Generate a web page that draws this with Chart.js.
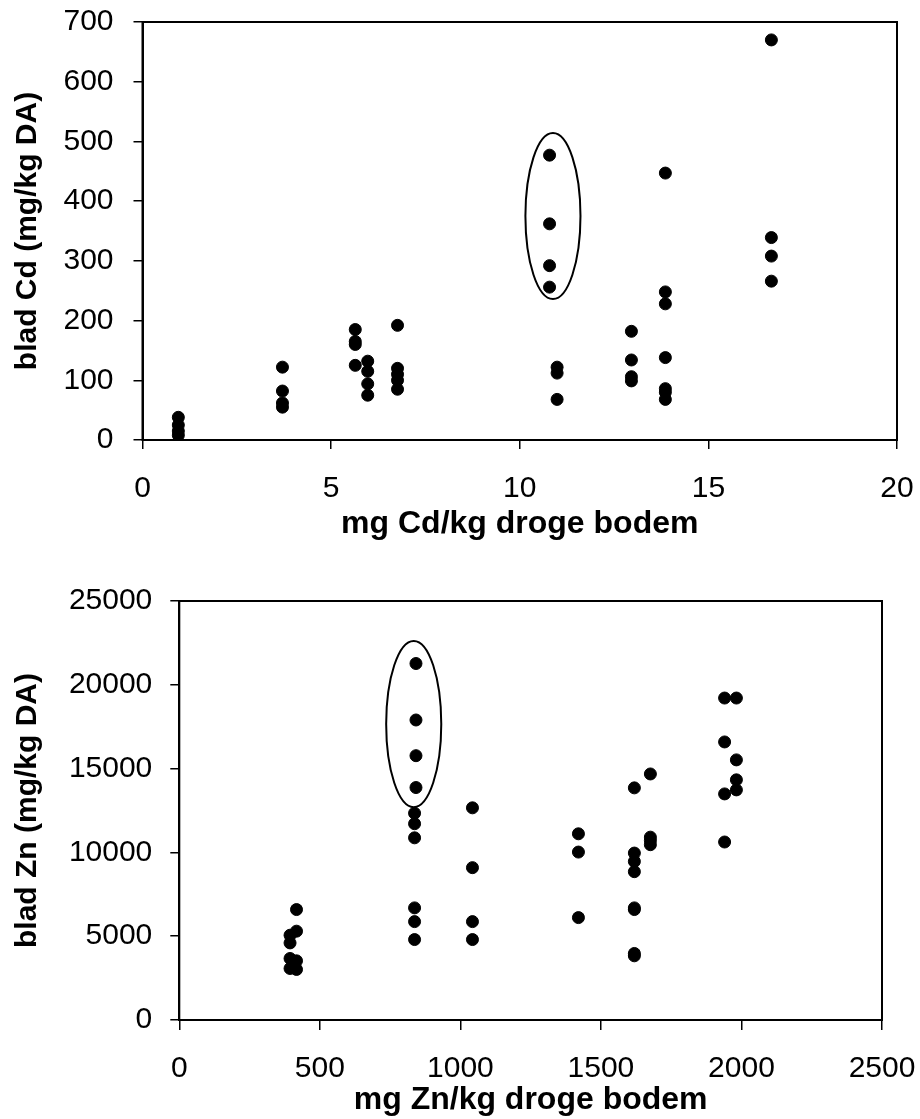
<!DOCTYPE html>
<html>
<head>
<meta charset="utf-8">
<script src="https://cdn.jsdelivr.net/npm/chart.js@4.4.1/dist/chart.umd.min.js"></script>
<style>
  html, body { margin: 0; padding: 0; background: #fff; }
  #wrap { position: relative; width: 920px; height: 1119px; }
  canvas { position: absolute; left: 0; }
</style>
</head>
<body>
<div id="wrap">
  <canvas id="cd" width="920" height="560" style="top:0px"></canvas>
  <canvas id="zn" width="920" height="559" style="top:560px"></canvas>
</div>
<script>
// ---- Cd chart data ----
const cdSoil = [
  0.95, 0.95, 0.95, 0.95,
  3.71, 3.71, 3.71, 3.71,
  5.64, 5.64, 5.64, 5.64,
  5.97, 5.97, 5.97, 5.97,
  6.76, 6.76, 6.76, 6.76, 6.76,
  10.79, 10.79, 10.79, 10.79,
  10.99, 10.99, 10.99,
  12.96, 12.96, 12.96, 12.96,
  13.86, 13.86, 13.86, 13.86, 13.86, 13.86, 13.86,
  16.67, 16.67, 16.67, 16.67
];
const cdLeaf = [
  38, 25, 15, 8,
  122, 82, 62, 55,
  185, 165, 160, 125,
  132, 115, 94, 75,
  192, 120, 110, 100, 85,
  477, 362, 292, 256,
  122, 112, 68,
  182, 134, 106, 99,
  447, 248, 228, 138, 86, 80, 68,
  670, 339, 308, 266
];
const cdXTicks = ['0', '5', '10', '15', '20'];
const cdYTicks = ['0', '100', '200', '300', '400', '500', '600', '700'];
const cdEllipse = [10.88, 375, 0.73, 139]; // centre x, centre y, radius x, radius y (data units)

// ---- Zn chart data ----
const znSoil = [
  394, 394, 394, 394,
  417, 417, 417, 417,
  842, 842, 842, 842,
  837, 837, 837, 837, 837, 837,
  1043, 1043, 1043, 1043,
  1420, 1420, 1420,
  1619, 1619, 1619, 1619, 1619, 1619, 1619, 1619,
  1676, 1676, 1676, 1676,
  1940, 1940, 1940, 1940,
  1982, 1982, 1982, 1982
];
const znLeaf = [
  5060, 4600, 3670, 3075,
  6590, 5300, 3530, 3015,
  21270, 17900, 15770, 13870,
  12340, 11710, 10870, 6690, 5870, 4800,
  12660, 9090, 5870, 4800,
  11110, 10020, 6110,
  13850, 9960, 9460, 8850, 6690, 6590, 3970, 3830,
  14680, 10910, 10710, 10460,
  19210, 16590, 13490, 10620,
  19210, 15520, 14330, 13730
];
const znXTicks = ['0', '500', '1000', '1500', '2000', '2500'];
const znYTicks = ['0', '5000', '10000', '15000', '20000', '25000'];
const znEllipse = [834, 17660, 98, 4960];

const FONT = 'Liberation Sans, Arial, sans-serif';

const frameEllipse = {
  id: 'frameEllipse',
  afterDatasetsDraw(chart, args, opts) {
    const { ctx, chartArea: a, scales: { x, y } } = chart;
    ctx.save();
    ctx.strokeStyle = '#000';
    ctx.lineWidth = 2;
    ctx.strokeRect(a.left, a.top, a.right - a.left, a.bottom - a.top);
    const e = opts.ellipse;
    const cx = x.getPixelForValue(e[0]);
    const cy = y.getPixelForValue(e[1]);
    const rx = Math.abs(x.getPixelForValue(e[0] + e[2]) - cx);
    const ry = Math.abs(y.getPixelForValue(e[1] + e[3]) - cy);
    ctx.beginPath();
    ctx.ellipse(cx, cy, rx, ry, 0, 0, Math.PI * 2);
    ctx.stroke();
    ctx.restore();
  }
};

function makeChart(id, cfg) {
  const pts = cfg.xs.map((v, i) => ({ x: v, y: cfg.ys[i] }));
  return new Chart(document.getElementById(id), {
    type: 'scatter',
    data: { datasets: [{ data: pts, backgroundColor: '#000', borderColor: '#000', pointRadius: 6, pointHoverRadius: 6 }] },
    plugins: [frameEllipse],
    options: {
      responsive: false,
      animation: false,
      devicePixelRatio: 1,
      layout: { padding: { left: 0, right: cfg.padRight, top: cfg.padTop, bottom: 0 } },
      plugins: { legend: { display: false }, tooltip: { enabled: false }, frameEllipse: { ellipse: cfg.ellipse } },
      scales: {
        x: {
          type: 'linear', min: cfg.xMin, max: cfg.xMax,
          afterFit(s) { s.height = cfg.xHeight; s.paddingLeft = 0; s.paddingRight = 0; },
          afterBuildTicks(s) { s.ticks = cfg.xTicks.map(t => ({ value: Number(t) })); },
          ticks: { color: '#000', font: { family: FONT, size: 30 }, padding: cfg.xTickPad, maxRotation: 0, autoSkip: false,
                   callback: (v, i) => cfg.xTicks[i] },
          grid: { drawOnChartArea: false, drawTicks: true, tickLength: cfg.tickLen, color: '#000', lineWidth: 1.5 },
          border: { color: '#000', width: 2 },
          title: { display: true, text: cfg.xTitle, color: '#000', font: { family: FONT, size: 32, weight: 'bold' }, padding: { top: 0, bottom: cfg.xTitlePad } }
        },
        y: {
          type: 'linear', min: cfg.yMin, max: cfg.yMax,
          afterFit(s) { s.width = cfg.yWidth; s.paddingTop = 0; s.paddingBottom = 0; },
          afterBuildTicks(s) { s.ticks = cfg.yTicks.map(t => ({ value: Number(t) })); },
          ticks: { color: '#000', font: { family: FONT, size: 30 }, padding: cfg.yTickPad, autoSkip: false,
                   callback: (v, i) => cfg.yTicks[i] },
          grid: { drawOnChartArea: false, drawTicks: true, tickLength: 9, color: '#000', lineWidth: 1.5 },
          border: { color: '#000', width: 2 },
          title: { display: true, text: cfg.yTitle, color: '#000', font: { family: FONT, size: 30, weight: 'bold' }, padding: { top: 10, bottom: 0 } }
        }
      }
    }
  });
}

makeChart('cd', {
  xs: cdSoil, ys: cdLeaf, xTicks: cdXTicks, yTicks: cdYTicks, ellipse: cdEllipse,
  xMin: 0, xMax: 20, yMin: 0, yMax: 700,
  xTitle: 'mg Cd/kg droge bodem', yTitle: 'blad Cd (mg/kg DA)',
  padRight: 23, padTop: 22, xHeight: 120, yWidth: 142.5,
  xTickPad: 22, yTickPad: 20, tickLen: 9, xTitlePad: 17
});

makeChart('zn', {
  xs: znSoil, ys: znLeaf, xTicks: znXTicks, yTicks: znYTicks, ellipse: znEllipse,
  xMin: 0, xMax: 2500, yMin: 0, yMax: 25000,
  xTitle: 'mg Zn/kg droge bodem', yTitle: 'blad Zn (mg/kg DA)',
  padRight: 38, padTop: 41, xHeight: 99, yWidth: 179.3,
  xTickPad: 21, yTickPad: 18, tickLen: 10, xTitlePad: 0
});
</script>
</body>
</html>
